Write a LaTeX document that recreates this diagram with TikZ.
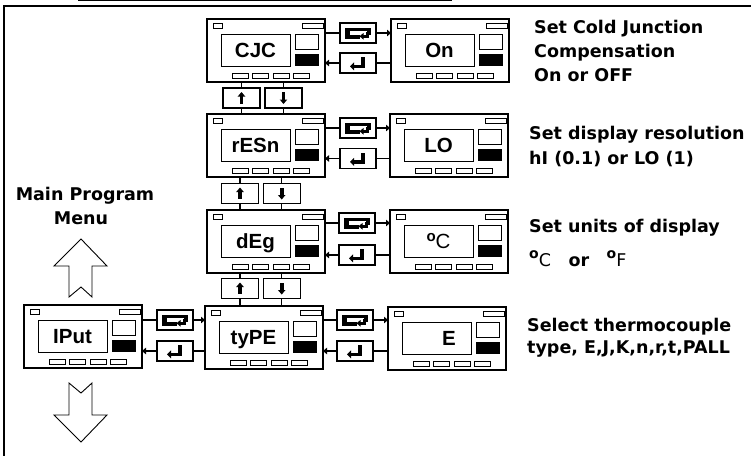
\documentclass[tikz,border=0pt]{standalone}
\usepackage{fontspec}
\setmainfont{DejaVu Sans}
\newfontfamily\dispfont{Liberation Sans}
\usetikzlibrary{arrows.meta}
\newcommand\degsym[2]{\raisebox{#1}{\fontsize{#2}{#2}\selectfont o}}
\newcommand\dispunit[5]{%
  \node[dbox, anchor=north west] (#1) at (#2,#3) {};
  \begin{scope}[shift={(#1.north west)}, line width=0.9pt]
    \draw (6,4) rectangle (15,9);
    \draw (95,4) rectangle (116,9);
    \draw (14,15) rectangle (83,47);
    \draw (88,15) rectangle (111,30);
    \fill (88,35) rectangle (112,47);
    \foreach \bx in {25,45,66,86} {\draw (\bx,54) rectangle (\bx+16,59);}
    \node[dtxt] (#1-t) at (#4,38.5) {#5};
  \end{scope}}
\tikzset{
  dbox/.style={draw, line width=1.2pt, minimum width=118pt, minimum height=63pt, inner sep=0pt, outer sep=0pt},
  btnbase/.style={draw, line width=1.2pt, minimum width=36pt, minimum height=20pt, inner sep=0pt, outer sep=0pt},
  loopbtn/.style={btnbase, path picture={
    \begin{scope}[shift={(path picture bounding box.center)}]
      \fill (-13,-5.5) rectangle (13,5.5);
      \fill[white] (-8.5,-1.8) rectangle (8.5,1.6);
      \fill[white] (1.5,1.6) rectangle (13.2,5.7);
      \fill (8,-1) rectangle (11,3.5);
      \fill (5,2) rectangle (11,4.5);
      \fill (1.5,3.3) -- (5.5,0) -- (5.5,6.6) -- cycle;
    \end{scope}}},
  retbtn/.style={btnbase, path picture={
    \begin{scope}[shift={(path picture bounding box.center)}]
      \fill (3.3,-6) rectangle (6.7,5);
      \fill (-4.5,1.7) rectangle (6.7,5);
      \fill (-8,3.35) -- (-4,-0.7) -- (-4,7.4) -- cycle;
    \end{scope}}},
  upbtn/.style={btnbase, minimum width=37pt, path picture={
    \begin{scope}[shift={(path picture bounding box.center)}]
      \fill (-1.8,-2) rectangle (1.8,5.7);
      \fill (0,-6) -- (-3.8,-1.5) -- (3.8,-1.5) -- cycle;
    \end{scope}}},
  dnbtn/.style={btnbase, minimum width=37pt, path picture={
    \begin{scope}[shift={(path picture bounding box.center)}]
      \fill (-1.8,2) rectangle (1.8,-5.7);
      \fill (0,6) -- (-3.8,1.5) -- (3.8,1.5) -- cycle;
    \end{scope}}},
  conn/.style={line width=1.1pt},
  arr/.style={conn, -{Triangle[length=4pt,width=6.5pt]}},
  lbl/.style={anchor=base west, inner sep=0pt, font=\fontsize{17.5}{21}\selectfont\bfseries},
  dtxt/.style={anchor=base, inner sep=0pt, font=\dispfont\fontsize{20.5}{24}\selectfont\bfseries},
  bigarrow/.style={line width=0.9pt, line join=miter},
}
\begin{document}
\begin{tikzpicture}[x=1pt, y=-1pt]
\useasboundingbox (0,0) rectangle (751,455);
\fill[white] (0,0) rectangle (751,455);
% frame
\draw[line width=2pt] (4.3,456) -- (4.3,5.8) -- (752,5.8);
\draw[line width=1.2pt] (78,0.4) -- (452,0.4);

% display units
\dispunit{cjc}{207}{19}{48.5}{CJC}
\dispunit{on}{391}{19}{48.5}{On}
\dispunit{res}{207}{114}{48.5}{rESn}
\dispunit{lo}{390}{114}{48.5}{LO}
\dispunit{deg}{207}{210}{48.5}{dEg}
\dispunit{degc}{390}{210}{48.5}{\degsym{7.5pt}{15}{\mdseries C}}
\dispunit{type}{205}{306}{48.5}{tyPE}
\dispunit{tce}{388}{307}{61}{E}
\dispunit{iput}{24}{305}{48.5}{IPut}

% loop / return buttons
\node[loopbtn] (l0) at (358,33) {};
\node[retbtn] (r0) at (358,63) {};
\node[loopbtn] (l1) at (358,128) {};
\node[retbtn] (r1) at (358,158.5) {};
\node[loopbtn] (l2) at (357,223) {};
\node[retbtn] (r2) at (357,255) {};
\node[loopbtn] (l3) at (355,320) {};
\node[retbtn] (r3) at (355,351) {};
\node[loopbtn] (l4) at (175,320) {};
\node[retbtn] (r4) at (175,351) {};

% up / down buttons
\node[upbtn] (u1) at (241.5,98) {};
\node[dnbtn] (d1) at (283.5,98) {};
\node[upbtn] (u2) at (240,193.5) {};
\node[dnbtn] (d2) at (281.7,193.5) {};
\node[upbtn] (u3) at (240,288.5) {};
\node[dnbtn] (d3) at (281.7,288.5) {};

\foreach \b/\a/\c in {u1/cjc/res, d1/cjc/res, u2/res/deg, d2/res/deg, u3/deg/type, d3/deg/type}
  {\draw[conn] (\a.south -| \b) -- (\b.north) (\b.south) -- (\c.north -| \b);}

\foreach \L/\R/\l/\r in {cjc/on/l0/r0, res/lo/l1/r1, deg/degc/l2/r2, type/tce/l3/r3, iput/type/l4/r4}
{
  \draw[conn] (\L.east |- \l) -- (\l.west);
  \draw[arr] (\l.east) -- (\R.west |- \l);
  \draw[conn] (\R.west |- \r) -- (\r.east);
  \draw[arr] (\r.west) -- (\L.east |- \r);
}

% big outline arrows
\draw[bigarrow] (81,239) -- (107,266) -- (92,266) -- (92,297) -- (81,287) -- (69,297) -- (69,266) -- (54,266) -- cycle;
\draw[bigarrow] (69,383) -- (81,393) -- (92,383) -- (92,415) -- (107,415) -- (81,442) -- (54,415) -- (69,415) -- cycle;

% texts
\node[lbl, anchor=base] (mpm1) at (85,200) {Main Program};
\node[lbl, anchor=base] (mpm2) at (81,224) {Menu};

\node[lbl] (t0a) at (534,33.3) {Set Cold Junction};
\node[lbl] (t0b) at (534,57.3) {Compensation};
\node[lbl] (t0c) at (534,81.7) {On or OFF};
\node[lbl] (t1a) at (529,139) {Set display resolution};
\node[lbl] (t1b) at (529,164) {hI (0.1) or LO (1)};
\node[lbl] (t2a) at (529,232) {Set units of display};
\node[lbl] (t2b) at (529,266) {\degsym{8pt}{14}{\mdseries C}\quad or\quad\degsym{8pt}{14}{\mdseries F}};
\node[lbl] (t3a) at (527,331) {Select thermocouple};
\node[lbl] (t3b) at (527,353.3) {type, E,J,K,n,r,t,PALL};
\end{tikzpicture}
\end{document}
